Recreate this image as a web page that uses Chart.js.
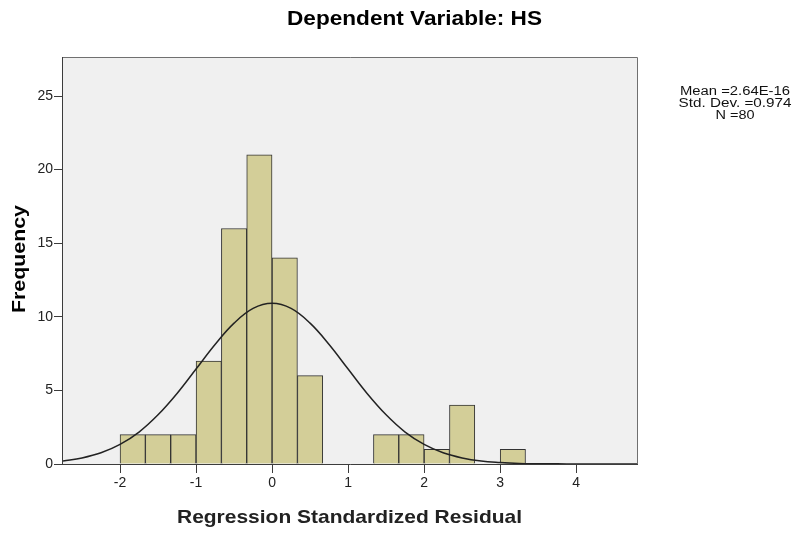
<!DOCTYPE html>
<html>
<head>
<meta charset="utf-8">
<script src="https://cdn.jsdelivr.net/npm/chart.js@4/dist/chart.umd.min.js"></script>
<style>
  html, body { margin: 0; padding: 0; background: #ffffff; }
  #wrap { width: 795px; height: 533px; position: relative; }
</style>
</head>
<body>
<div id="wrap"><canvas id="c" width="795" height="533"></canvas></div>
<script>
// ---- Data ----
const binCenters = [-1.833, -1.5, -1.167, -0.833, -0.5, -0.167, 0.167, 0.5, 0.833, 1.167, 1.5, 1.833, 2.167, 2.5, 2.833, 3.167];
const frequencies = [2, 2, 2, 7, 16, 21, 14, 6, null, null, 2, 2, 1, 4, null, 1];
const curveX = [-2.75, -2.5, -2.25, -2, -1.75, -1.5, -1.25, -1, -0.75, -0.5, -0.25, 0, 0.25, 0.5, 0.75, 1, 1.25, 1.5, 1.75, 2, 2.25, 2.5, 2.75, 3, 3.25, 3.5, 3.75, 4, 4.25, 4.5, 4.8];
const curveY = [0.2, 0.41, 0.76, 1.33, 2.17, 3.34, 4.79, 6.45, 8.12, 9.57, 10.57, 10.92, 10.57, 9.57, 8.12, 6.45, 4.79, 3.34, 2.17, 1.33, 0.76, 0.41, 0.2, 0.1, 0.04, 0.02, 0.01, 0, 0, 0, 0];
const xTicks = [-2, -1, 0, 1, 2, 3, 4];
const yTicks = [0, 5, 10, 15, 20, 25];
const titleText = 'Dependent Variable: HS';
const xTitle = 'Regression Standardized Residual';
const yTitle = 'Frequency';
const statsLines = ['Mean =2.64E-16', 'Std. Dev. =0.974', 'N =80'];

const FONT = '"Liberation Sans", Arial, sans-serif';

// draw text centred at (cx, cy), stretched horizontally to a target width
function fitText(ctx, text, cx, cy, font, width, color, angle) {
  ctx.save();
  ctx.font = font;
  ctx.fillStyle = color;
  ctx.textAlign = 'center';
  ctx.textBaseline = 'middle';
  const w = ctx.measureText(text).width;
  ctx.translate(cx, cy);
  if (angle) ctx.rotate(angle);
  ctx.scale(width ? width / w : 1, 1);
  ctx.fillText(text, 0, 0);
  ctx.restore();
}

const bgPlugin = {
  id: 'bgPlugin',
  beforeDatasetsDraw(chart) {
    const {ctx, chartArea: a} = chart;
    ctx.save();
    ctx.fillStyle = '#f0f0f0';
    ctx.fillRect(a.left, a.top, a.right - a.left, a.bottom - a.top);
    ctx.restore();
  },
  afterDraw(chart) {
    const {ctx, chartArea: a} = chart;
    ctx.save();
    ctx.lineWidth = 1;
    ctx.strokeStyle = '#707070';
    ctx.beginPath();
    ctx.moveTo(a.left, a.top + 0.5); ctx.lineTo(a.right + 0.5, a.top + 0.5);
    ctx.lineTo(a.right + 0.5, a.bottom);
    ctx.stroke();
    ctx.strokeStyle = '#3c3c3c';
    ctx.beginPath();
    ctx.moveTo(a.left - 0.5, a.top); ctx.lineTo(a.left - 0.5, a.bottom + 0.5);
    ctx.lineTo(a.right + 1, a.bottom + 0.5);
    ctx.stroke();
    ctx.restore();
    fitText(ctx, titleText, 414.5, 19, 'bold 20px ' + FONT, 255, '#000');
    fitText(ctx, xTitle, 349.5, 518, 'bold 19px ' + FONT, 345, '#222');
    fitText(ctx, yTitle, 20, 259, 'bold 19px ' + FONT, 108, '#000', -Math.PI / 2);
    const sw = [110, 113, 39];
    statsLines.forEach((t, i) => fitText(ctx, t, 735, 92 + i * 12, '12.5px ' + FONT, sw[i], '#111'));
  }
};

const ctx = document.getElementById('c').getContext('2d');
new Chart(ctx, {
  data: {
    datasets: [
      {
        type: 'bar',
        data: binCenters.map((x, i) => ({x: x, y: frequencies[i]})),
        backgroundColor: '#d3ce98',
        borderColor: '#333333',
        borderWidth: 1,
        borderSkipped: 'bottom',
        barPercentage: 1,
        categoryPercentage: 1,
        order: 2
      },
      {
        type: 'line',
        data: curveX.map((x, i) => ({x: x, y: curveY[i]})),
        borderColor: '#222222',
        borderWidth: 1.5,
        pointRadius: 0,
        tension: 0.4,
        fill: false,
        order: 1
      }
    ]
  },
  options: {
    responsive: false,
    animation: false,
    layout: { padding: { top: 57, right: 158, left: 0, bottom: 0 } },
    plugins: { legend: { display: false }, tooltip: { enabled: false }, title: { display: false } },
    scales: {
      x: {
        type: 'linear',
        min: -2.75,
        max: 4.8,
        offset: false,
        afterBuildTicks(s) { s.ticks = xTicks.map(v => ({value: v})); },
        afterFit(s) { s.height = 69; },
        grid: { offset: false, drawOnChartArea: false, drawTicks: true, tickLength: 9, color: '#3c3c3c', tickWidth: 1 },
        border: { display: false },
        ticks: { color: '#222', font: { family: FONT, size: 14 }, padding: 2, maxRotation: 0,
                 callback: v => String(v) },
        title: { display: false }
      },
      y: {
        type: 'linear',
        min: 0,
        max: 27.65,
        afterBuildTicks(s) { s.ticks = yTicks.map(v => ({value: v})); },
        afterFit(s) { s.width = 63; },
        grid: { drawOnChartArea: false, drawTicks: true, tickLength: 9, color: '#3c3c3c', tickWidth: 1 },
        border: { display: false },
        ticks: { color: '#222', font: { family: FONT, size: 14 }, padding: 1 },
        title: { display: false }
      }
    }
  },
  plugins: [bgPlugin]
});
</script>
</body>
</html>
